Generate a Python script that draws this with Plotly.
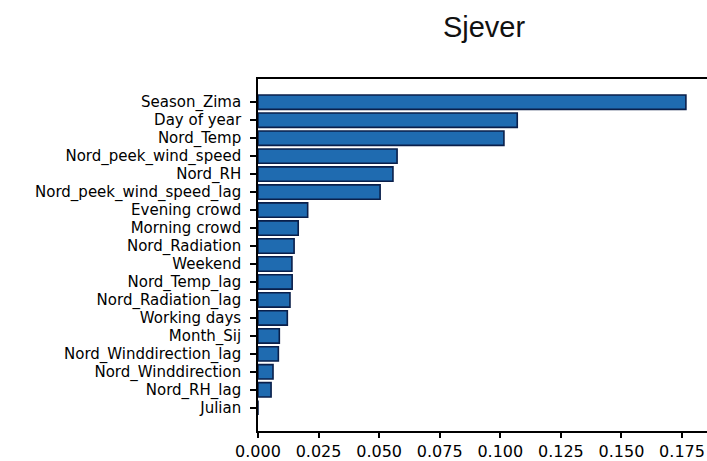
import plotly.graph_objects as go

features = [
    "Season_Zima", "Day of year", "Nord_Temp", "Nord_peek_wind_speed", "Nord_RH",
    "Nord_peek_wind_speed_lag", "Evening crowd", "Morning crowd", "Nord_Radiation",
    "Weekend", "Nord_Temp_lag", "Nord_Radiation_lag", "Working days", "Month_Sij",
    "Nord_Winddirection_lag", "Nord_Winddirection", "Nord_RH_lag", "Julian",
]
importance = [
    0.1766, 0.1070, 0.1015, 0.0574, 0.0557,
    0.0504, 0.0205, 0.0166, 0.0149,
    0.0140, 0.0141, 0.0132, 0.0121, 0.0088,
    0.0084, 0.0062, 0.0054, 0.0,
]
x_ticks = [0.0, 0.025, 0.05, 0.075, 0.1, 0.125, 0.15, 0.175]
x_tick_text = ["0.000", "0.025", "0.050", "0.075", "0.100", "0.125", "0.150", "0.175"]
title = "Sjever"

n = len(features)
fig = go.Figure(go.Bar(
    x=importance, y=features, orientation="h", width=0.8,
    marker=dict(color="#1f6bb0", line=dict(color="#0a1f4a", width=1.6)),
))

fig.update_layout(
    width=707, height=461,
    margin=dict(l=258, r=0, t=79, b=27),
    paper_bgcolor="white", plot_bgcolor="white",
    showlegend=False,
    font=dict(family="DejaVu Sans", color="black", size=15),
    title=dict(text=title, x=484 / 707, xanchor="center", y=1 - 37 / 461, yanchor="bottom",
               font=dict(family="Liberation Sans", size=29, color="#111")),
)
fig.update_xaxes(
    range=[0, (707 - 258) / 2423], tickmode="array", tickvals=x_ticks, ticktext=x_tick_text,
    showline=True, linecolor="black", linewidth=1.6, mirror=True,
    ticks="outside", ticklen=5, tickwidth=1.6, tickcolor="black",
    showgrid=False, zeroline=False, tickfont=dict(size=16),
)
fig.update_yaxes(
    type="category", categoryorder="array", categoryarray=features,
    tickmode="array", tickvals=features, ticktext=features,
    range=[n - 1 + 1.29, -1.29],
    showline=True, linecolor="black", linewidth=1.6, mirror=False,
    ticks="outside", ticklen=6, tickwidth=1.6, tickcolor="black",
    ticklabelstandoff=6,
    showgrid=False, zeroline=False, tickfont=dict(size=15),
)

fig.write_html(
    "out.html",
    config={"displayModeBar": False},
    post_script="document.body.style.margin='0';document.body.style.overflow='hidden';",
)
